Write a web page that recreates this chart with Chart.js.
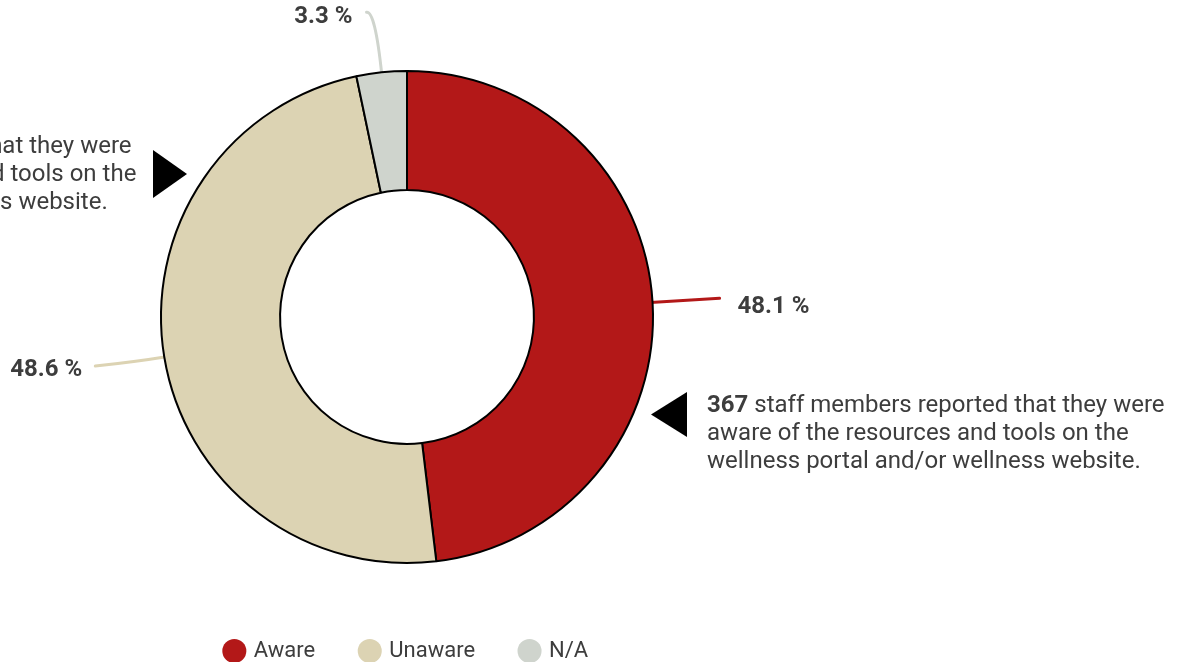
<!DOCTYPE html>
<html>
<head>
  <meta name="viewport" content="width=device-width, initial-scale=1.0">
  <script src="https://cdn.jsdelivr.net/npm/chart.js@4/dist/chart.umd.min.js"></script>
  <style>
    html, body { margin: 0; padding: 0; background: #fff; }
    .wrap { width: 1184px; height: 662px; position: relative; }
  </style>
</head>
<body>
  <div class="wrap">
    <canvas id="awareChart"></canvas>
  </div>
  <script>
  const categories = ['Aware', 'Unaware', 'N/A'];
  const shares = [48.1, 48.6, 3.3];
  const sliceColors = ['#b31818', '#dcd3b3', '#cfd4cd'];
  const staffAware = 367;
  const staffUnaware = 371;

  const textColor = '#3d3d3d';
  const fontFamily = 'Roboto, "Noto Sans", sans-serif';

  // leader line per slice: how far it runs outward before bending, where it ends,
  // and where the value label sits relative to that end
  const leaders = [
    { bend: 30, end: [67, -4], label: [18, 9], align: 'left' },
    { bend: 30, end: [-69, 9], label: [-13, 4], align: 'right' },
    { bend: 64, end: [-15, -60], label: [-14, 5], align: 'right' }
  ];

  function drawParagraph(ctx, x, y, number, lines) {
    const lh = 28;
    ctx.textBaseline = 'middle';
    ctx.textAlign = 'left';
    lines.forEach((line, i) => {
      let cx = x;
      if (i === 0) {
        ctx.font = 'bold 24px ' + fontFamily;
        ctx.fillText(number, cx, y);
        cx += ctx.measureText(number).width;
        ctx.font = '24px ' + fontFamily;
        ctx.fillText(' ' + line, cx, y);
      } else {
        ctx.font = '24px ' + fontFamily;
        ctx.fillText(line, cx, y + i * lh);
      }
    });
  }

  function triangle(ctx, pts) {
    ctx.beginPath();
    ctx.moveTo(pts[0][0], pts[0][1]);
    ctx.lineTo(pts[1][0], pts[1][1]);
    ctx.lineTo(pts[2][0], pts[2][1]);
    ctx.closePath();
    ctx.fillStyle = '#000';
    ctx.fill();
  }

  const callouts = {
    id: 'callouts',
    beforeDatasetsDraw(chart) {
      // leader lines go under the ring so the slice border covers their start
      const ctx = chart.ctx;
      const meta = chart.getDatasetMeta(0);
      ctx.save();
      meta.data.forEach((arc, i) => {
        const p = arc.getProps(['x', 'y', 'startAngle', 'endAngle', 'outerRadius'], true);
        const mid = (p.startAngle + p.endAngle) / 2;
        const dx = Math.cos(mid), dy = Math.sin(mid);
        const sx = p.x + dx * (p.outerRadius - 2), sy = p.y + dy * (p.outerRadius - 2);
        const lead = leaders[i];
        const cx = sx + dx * lead.bend, cy = sy + dy * lead.bend;
        const ex = sx + 2 * dx + lead.end[0], ey = sy + 2 * dy + lead.end[1];
        ctx.beginPath();
        ctx.moveTo(sx, sy);
        ctx.quadraticCurveTo(cx, cy, ex, ey);
        ctx.strokeStyle = sliceColors[i];
        ctx.lineWidth = 3;
        ctx.lineCap = 'round';
        ctx.stroke();
      });
      ctx.restore();
    },
    afterDatasetsDraw(chart) {
      const ctx = chart.ctx;
      const meta = chart.getDatasetMeta(0);
      ctx.save();
      ctx.fillStyle = textColor;
      ctx.font = 'bold 24px ' + fontFamily;
      ctx.textBaseline = 'middle';
      meta.data.forEach((arc, i) => {
        const p = arc.getProps(['x', 'y', 'startAngle', 'endAngle', 'outerRadius'], true);
        const mid = (p.startAngle + p.endAngle) / 2;
        const lead = leaders[i];
        const ex = p.x + Math.cos(mid) * p.outerRadius + lead.end[0];
        const ey = p.y + Math.sin(mid) * p.outerRadius + lead.end[1];
        ctx.textAlign = lead.align;
        ctx.fillText(shares[i].toFixed(1) + ' %', ex + lead.label[0], ey + lead.label[1]);
      });

      // notes beside the ring
      triangle(ctx, [[153, 150], [153, 198], [187, 174]]);
      triangle(ctx, [[687, 392], [687, 437], [651, 414.5]]);
      ctx.fillStyle = textColor;
      drawParagraph(ctx, 707, 406, String(staffAware), [
        'staff members reported that they were',
        'aware of the resources and tools on the',
        'wellness portal and/or wellness website.'
      ]);
      drawParagraph(ctx, -326, 147, String(staffUnaware), [
        'staff members reported that they were',
        'not aware of the resources and tools on the',
        'wellness portal and/or wellness website.'
      ]);
      ctx.restore();
    }
  };

  Chart.defaults.font.family = fontFamily;
  Chart.defaults.color = textColor;

  const ctx = document.getElementById('awareChart').getContext('2d');
  new Chart(ctx, {
    type: 'doughnut',
    data: {
      labels: categories,
      datasets: [{
        data: shares,
        backgroundColor: sliceColors,
        borderColor: '#000',
        borderWidth: 2,
        hoverOffset: 0
      }]
    },
    options: {
      responsive: true,
      maintainAspectRatio: false,
      animation: false,
      radius: 246,
      cutout: '51.6%',
      layout: {
        padding: { left: 0, right: 370, top: 40, bottom: -10 }
      },
      plugins: {
        tooltip: { enabled: false },
        legend: {
          position: 'bottom',
          labels: {
            usePointStyle: true,
            pointStyle: 'circle',
            boxHeight: 17,
            boxWidth: 17,
            padding: 46,
            color: textColor,
            font: { size: 22 },
            generateLabels(chart) {
              return categories.map((c, i) => ({
                text: c,
                fillStyle: sliceColors[i],
                strokeStyle: sliceColors[i],
                lineWidth: 0,
                pointStyle: 'circle',
                fontColor: textColor,
                hidden: false,
                index: i
              }));
            }
          }
        }
      }
    },
    plugins: [callouts]
  });
  </script>
</body>
</html>
